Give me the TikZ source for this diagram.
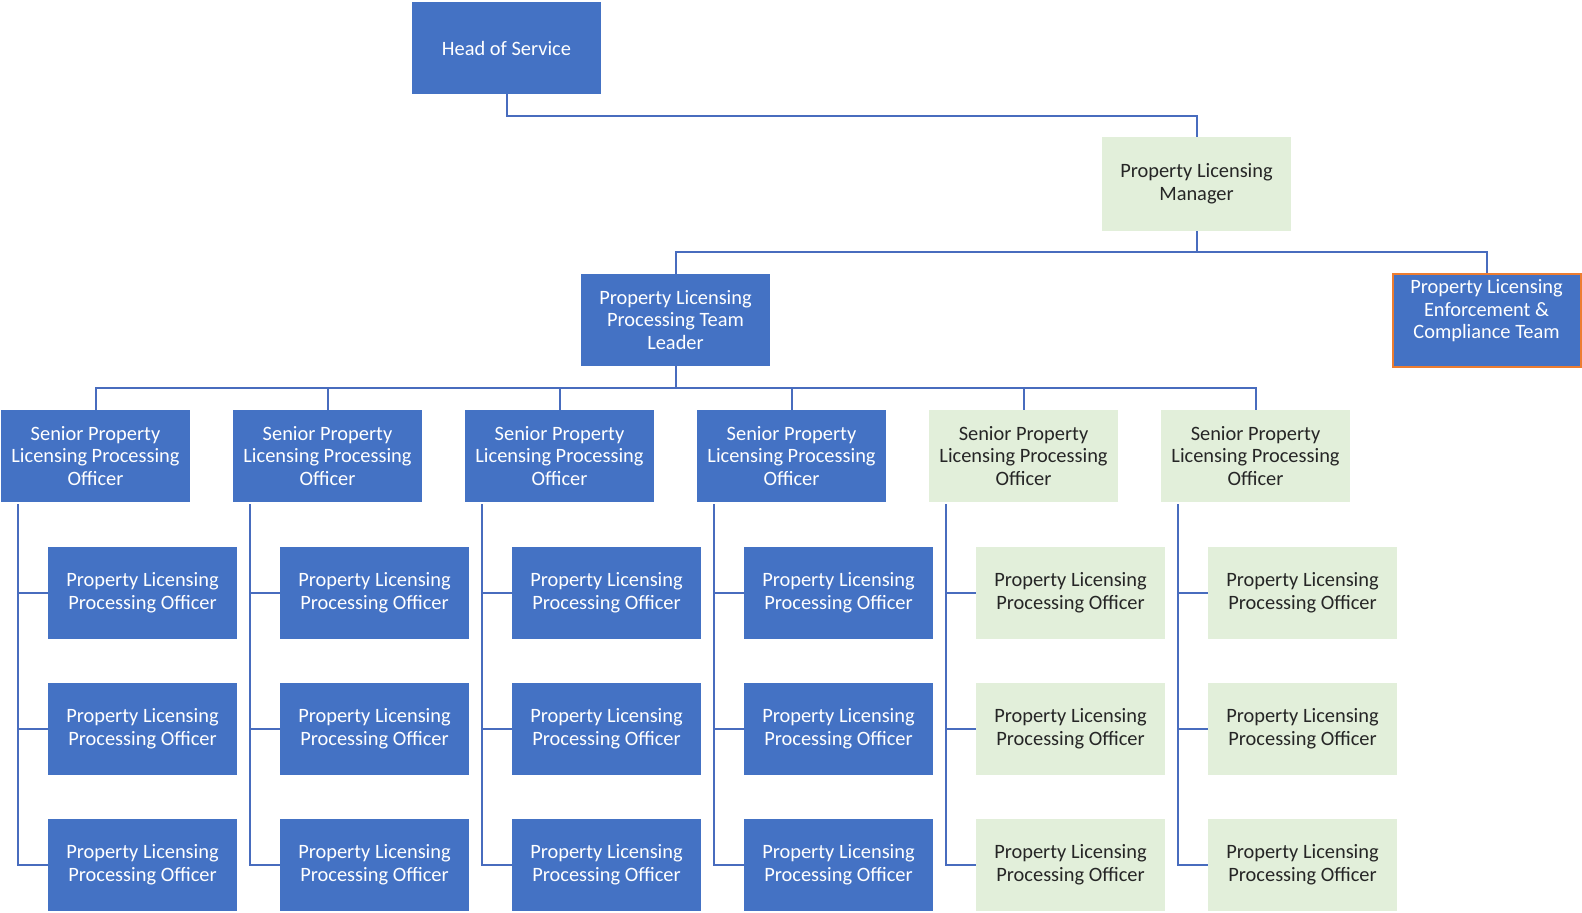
\documentclass[tikz,border=0pt]{standalone}
\usepackage{fontspec}
\setmainfont{Carlito}
\usepackage{tikz}
\definecolor{officeblue}{RGB}{68, 114, 196}
\definecolor{palegreen}{RGB}{226, 239, 218}
\definecolor{edgeorange}{RGB}{237, 125, 49}
\definecolor{linkblue}{RGB}{72, 108, 190}

\begin{document}
\begin{tikzpicture}[x=0.5pt, y=-0.5pt,
  post/.style={minimum width=94.5pt, minimum height=46pt, align=center, inner sep=2pt,
    font=\fontsize{10.2}{11.3}\selectfont},
  bluepost/.style={post, fill=officeblue, text=white},
  greenpost/.style={post, fill=palegreen, text=black!85},
  link/.style={linkblue, line width=1pt}]
\useasboundingbox (0,0) rectangle (1582,912);

% Top of the structure
\node[bluepost] (hos) at (506.5,48) {Head of Service};
\node[greenpost, minimum height=47pt] (mgr) at (1196.5,184) {Property Licensing\\Manager};
\node[bluepost] (ptl) at (675.5,320) {Property Licensing\\Processing Team\\Leader};
\node[bluepost, draw=edgeorange, line width=1pt, minimum width=94pt, minimum height=46.5pt] (enf) at (1486.5,320.5)
  {Property Licensing\\Enforcement \&\\Compliance Team\\\mbox{}};

\coordinate (bar0) at (506.5,116);
\coordinate (bar1) at (1196.5,252);
\coordinate (bar2) at (675.5,388);

\draw[link] (hos.south) -- (bar0) -| (mgr.north);
\draw[link] (mgr.south) -- (bar1);
\draw[link] (ptl.north) |- (bar1) -| (enf.north);
\draw[link] (ptl.south) -- (bar2);

% Senior officers and their teams
\foreach \i/\kind in {1/bluepost, 2/bluepost, 3/bluepost, 4/bluepost, 5/greenpost, 6/greenpost} {
  \pgfmathsetmacro{\sx}{95.5+232*(\i-1)}
  \pgfmathsetmacro{\ox}{142.5+232*(\i-1)}
  \pgfmathsetmacro{\tx}{18+232*(\i-1)}
  \node[\kind] (s\i) at (\sx,456) {Senior Property\\Licensing Processing\\Officer};
  \node[\kind] (o\i a) at (\ox,593) {Property Licensing\\Processing Officer};
  \node[\kind] (o\i b) at (\ox,729) {Property Licensing\\Processing Officer};
  \node[\kind] (o\i c) at (\ox,865) {Property Licensing\\Processing Officer};
  \coordinate (t\i) at (\tx,504);
  \draw[link] (t\i) |- (o\i c.west);
  \draw[link] (t\i |- o\i a.west) -- (o\i a.west);
  \draw[link] (t\i |- o\i b.west) -- (o\i b.west);
}

\draw[link] (s1.north) |- (bar2) -| (s6.north);
\foreach \i in {2,3,4,5} {
  \draw[link] (s\i.north) -- (s\i.north |- bar2);
}
\end{tikzpicture}
\end{document}
